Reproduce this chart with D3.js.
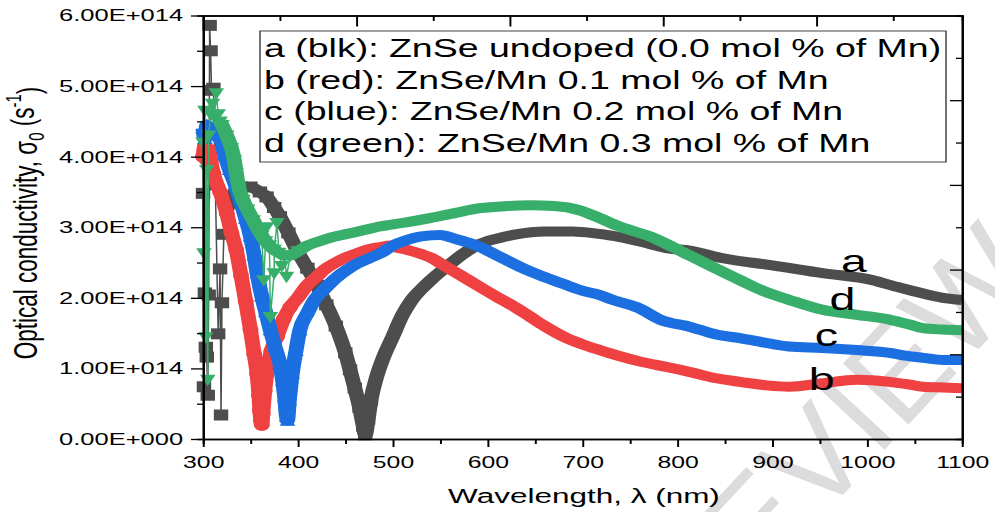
<!DOCTYPE html>
<html><head><meta charset="utf-8">
<script src="https://cdn.jsdelivr.net/npm/d3@7"></script>
<style>
body{margin:0;background:#fff}
svg{display:block}
text{font-family:"Liberation Sans",Arial,sans-serif;fill:#000}
</style>
</head><body>
<svg id="chart" width="995" height="512"></svg>
<script>
// ---------------- data (values in units of 1E+14 s^-1) ----------------
const wavelengthTicks = [300,400,500,600,700,800,900,1000,1100];
const wavelengthMinor = [350,450,550,650,750,850,950,1050];
const sigmaTicks = [0,1,2,3,4,5,6];
const sigmaMinor = [0.5,1.5,2.5,3.5,4.5,5.5];
const sigmaTickLabels = ["0.00E+000","1.00E+014","2.00E+014","3.00E+014","4.00E+014","5.00E+014","6.00E+014"];
const topAxisMax = 9.9;
const rightAxisMax = 10;
const legendLines = [
  "a (blk): ZnSe undoped (0.0 mol % of Mn)",
  "b (red): ZnSe/Mn 0.1 mol % of Mn",
  "c (blue): ZnSe/Mn 0.2 mol % of Mn",
  "d (green): ZnSe/Mn 0.3 mol % of Mn"
];
const curveLetters = ["a","b","c","d"];
const curveLetterAt = [[986,2.37],[952,0.70],[957,1.32],[974,1.83]]; // [wavelength, value] anchor (baseline) of the letter labels

const grayNoise = [[300,3.48],[301,0.74],[302,2.07],[303,1.30],[304,1.16],[305,0.62],[306,2.04],[307,5.86],[308,5.50],[309,4.94],[311,4.97],[313,3.60],[316,1.49],[318,2.41],[319,0.34],[320,1.93],[322,2.90]];
const grayBand = [[325,3.25],[330,3.42],[335,3.52],[340,3.57],[350,3.57],[360,3.50],[367,3.43],[375,3.28],[381,3.15],[390,2.92],[400,2.65],[410,2.42],[420,2.18],[430,1.90],[440,1.60],[450,1.22],[455,0.98],[460,0.72],[465,0.45],[469,0.18],[471,0.06],[474,0.28],[477,0.55],[483,0.88],[490,1.15],[500,1.45],[510,1.75],[520,1.97],[530,2.12],[540,2.25],[555,2.42],[575,2.63],[590,2.75],[610,2.84],[630,2.90],[660,2.94],[690,2.94],[715,2.91],[740,2.86],[760,2.80],[790,2.70],[813,2.67],[848,2.56],[900,2.46],[953,2.35],[1006,2.25],[1030,2.16],[1059,2.06],[1080,2.00],[1100,1.97]];

const redNoise = [];
const redBand = [[300,4.00],[302,4.15],[304,3.95],[306,4.10],[308,3.95],[311,3.76],[318,3.50],[325,3.20],[330,2.92],[335,2.68],[340,2.32],[345,1.95],[350,1.55],[354,1.20],[357,0.92],[359,0.62],[360,0.40],[361,0.26],[362,0.20],[363,0.36],[365,0.68],[368,1.00],[372,1.25],[378,1.45],[385,1.70],[392,1.87],[400,2.00],[410,2.18],[420,2.30],[427,2.39],[440,2.50],[450,2.57],[462,2.63],[475,2.69],[487,2.72],[497,2.74],[505,2.71],[515,2.68],[530,2.62],[540,2.57],[555,2.45],[574,2.30],[590,2.17],[609,2.02],[630,1.86],[645,1.73],[660,1.60],[680,1.45],[700,1.34],[718,1.26],[740,1.17],[760,1.10],[789,1.02],[813,0.95],[841,0.86],[866,0.81],[894,0.76],[918,0.74],[953,0.79],[989,0.84],[1024,0.81],[1045,0.77],[1059,0.74],[1080,0.73],[1100,0.72]];

const blueNoise = [];
const blueBand = [[300,4.40],[302,4.25],[304,4.45],[306,4.30],[309,4.40],[313,4.35],[318,4.28],[323,4.02],[328,3.81],[334,3.60],[339,3.39],[345,3.12],[350,2.87],[354,2.60],[357,2.35],[362,2.02],[366,1.80],[371,1.54],[376,1.30],[381,1.07],[384,0.82],[386,0.60],[388,0.32],[389,0.26],[391,0.55],[394,0.92],[398,1.25],[402,1.54],[410,1.78],[418,1.98],[427,2.11],[440,2.28],[452,2.40],[462,2.48],[475,2.56],[487,2.63],[500,2.74],[515,2.82],[530,2.87],[550,2.89],[565,2.84],[580,2.78],[592,2.72],[610,2.60],[634,2.44],[655,2.32],[679,2.20],[700,2.10],[718,2.04],[732,1.97],[760,1.85],[782,1.69],[813,1.59],[841,1.48],[866,1.43],[890,1.37],[918,1.31],[953,1.29],[989,1.26],[1024,1.22],[1040,1.18],[1059,1.15],[1080,1.12],[1100,1.12]];

const greenNoise = [[300,4.20],[301,2.63],[302,4.65],[303,1.44],[304,3.81],[305,0.84],[306,4.30],[308,4.60],[310,4.75],[312,4.55],[314,4.90],[316,4.60],[364,2.25],[367,3.00],[371,1.73],[375,2.35],[378,3.06],[383,2.45],[388,2.30]];
const greenBand = [[318,4.50],[320,4.45],[325,4.30],[330,4.12],[333,3.95],[335,3.77],[338,3.55],[342,3.39],[347,3.25],[353,3.10],[358,2.97],[362,2.88],[366,2.80],[370,2.74],[375,2.68],[380,2.64],[386,2.60],[392,2.60],[400,2.66],[410,2.74],[420,2.79],[434,2.85],[450,2.90],[470,2.96],[486,3.01],[510,3.06],[539,3.13],[565,3.20],[592,3.27],[620,3.30],[645,3.31],[670,3.30],[697,3.24],[718,3.13],[735,3.03],[750,2.96],[771,2.87],[795,2.72],[813,2.60],[840,2.42],[866,2.25],[890,2.10],[918,1.97],[953,1.83],[989,1.76],[1024,1.69],[1045,1.62],[1059,1.57],[1080,1.55],[1100,1.54]];

// ---------------- drawing ----------------
const SX = 1.5; // the whole figure is horizontally stretched
const svg = d3.select("#chart");

// watermark (behind everything)
svg.append("text")
  .attr("transform","translate(1044,279) rotate(-47)")
  .attr("text-anchor","end")
  .style("font-size","130px").style("fill","#dcdcdc")
  .text("REVIEW");

const g = svg.append("g").attr("transform",`scale(${SX},1)`);

const x0 = 203/SX, x1 = 962/SX, yB = 439, yT = 15.5;
const x = d3.scaleLinear().domain([300,1100]).range([x0,x1]);
const y = d3.scaleLinear().domain([0,6]).range([yB,yT]);
const xTop = d3.scaleLinear().domain([0,topAxisMax]).range([x0,x1]);
const yRight = d3.scaleLinear().domain([0,rightAxisMax]).range([yB,yT]);

const series = [
  {noise:grayNoise, band:grayBand, color:"#4d4d4d", shape:"square", markerCut:480},
  {noise:redNoise, band:redBand, color:"#ef4141", shape:"circle", markerCut:398},
  {noise:blueNoise, band:blueBand, color:"#1b6fe0", shape:"up", markerCut:405},
  {noise:greenNoise, band:greenBand, color:"#37ae6a", shape:"down", markerCut:400}
];

const plot = g.append("g");
const thin = d3.line().x(d=>x(d[0])).y(d=>y(d[1]));
const thick = d3.line().x(d=>x(d[0])).y(d=>y(d[1])).curve(d3.curveMonotoneX);

function marker(sel, shape, color){
  if(shape==="square"){
    sel.append("rect").attr("x",-4.8).attr("y",-5.5).attr("width",9.6).attr("height",11).attr("fill",color);
  } else if(shape==="circle"){
    sel.append("ellipse").attr("rx",5.3).attr("ry",6).attr("fill",color);
  } else if(shape==="up"){
    sel.append("path").attr("d","M0,-6.5L5.2,5L-5.2,5Z").attr("fill",color);
  } else {
    sel.append("path").attr("d","M0,6.5L5.2,-5L-5.2,-5Z").attr("fill",color);
  }
}

series.forEach(s=>{
  const all = s.noise.concat(s.band).sort((a,b)=>a[0]-b[0]);
  const sg = plot.append("g");
  sg.append("path").attr("d",thin(all)).attr("fill","none").attr("stroke",s.color).attr("stroke-width",1);
  sg.append("path").attr("d",thick(s.band)).attr("fill","none").attr("stroke",s.color)
    .attr("stroke-width",10).attr("stroke-linejoin","round");
  const pts = s.noise.concat(s.band.filter(d=>d[0]<=s.markerCut));
  pts.forEach(d=>{
    const m = sg.append("g").attr("transform",`translate(${x(d[0])},${y(d[1])})`);
    marker(m, s.shape, s.color);
  });
});

// axes
const axisStyle = sel=>{
  sel.select(".domain").attr("stroke","#000").attr("stroke-width",1.4);
  sel.selectAll(".tick line").attr("stroke","#000").attr("stroke-width",1.3);
};
const axLeft = g.append("g").attr("transform",`translate(${x0},0)`)
  .call(d3.axisLeft(y).tickValues(sigmaTicks).tickSize(8).tickSizeOuter(0).tickPadding(5.3)
    .tickFormat((d,i)=>sigmaTickLabels[i]));
axLeft.call(axisStyle);
axLeft.selectAll("text").style("font-size","17px");
g.append("g").attr("transform",`translate(${x0},0)`)
  .call(d3.axisLeft(y).tickValues(sigmaMinor).tickSize(4).tickFormat(""))
  .call(axisStyle);

const axBottom = g.append("g").attr("transform",`translate(0,${yB})`)
  .call(d3.axisBottom(x).tickValues(wavelengthTicks).tickSize(8).tickSizeOuter(0).tickPadding(9)
    .tickFormat(d3.format("d")));
axBottom.call(axisStyle);
axBottom.selectAll("text").style("font-size","16.5px");
g.append("g").attr("transform",`translate(0,${yB})`)
  .call(d3.axisBottom(x).tickValues(wavelengthMinor).tickSize(5).tickFormat(""))
  .call(axisStyle);

const axTop = g.append("g").attr("transform",`translate(0,${yT})`)
  .call(d3.axisTop(xTop).tickValues([2,4,6,8]).tickSize(-11).tickSizeOuter(0).tickFormat(""));
axTop.call(axisStyle);
g.append("g").attr("transform",`translate(0,${yT})`)
  .call(d3.axisTop(xTop).tickValues([1,3,5,7,9]).tickSize(-5.5).tickFormat(""))
  .call(axisStyle);

const axRight = g.append("g").attr("transform",`translate(${x1},0)`)
  .call(d3.axisRight(yRight).tickValues([2,4,6,8]).tickSize(-8).tickSizeOuter(0).tickFormat(""));
axRight.call(axisStyle);
g.append("g").attr("transform",`translate(${x1},0)`)
  .call(d3.axisRight(yRight).tickValues([1,3,5,7,9]).tickSize(-4).tickFormat(""))
  .call(axisStyle);

// axis titles
g.append("text").attr("x",584/SX).attr("y",503).attr("text-anchor","middle")
  .style("font-size","21px").text("Wavelength, λ (nm)");

const yt = g.append("text").attr("transform",`translate(${37/SX},223) rotate(-90)`)
  .attr("text-anchor","middle").style("font-size","22.5px");
yt.append("tspan").text("Optical conductivity, σ");
yt.append("tspan").attr("dy","0.3em").style("font-size","15px").text("0");
yt.append("tspan").attr("dy","-0.3em").text(" (s");
yt.append("tspan").attr("dy","-0.55em").style("font-size","15px").text("-1");
yt.append("tspan").attr("dy","0.55em").text(")");

// legend box
const lg = g.append("g");
lg.append("rect").attr("x",260/SX).attr("y",31).attr("width",(946-260)/SX).attr("height",131)
  .attr("fill","#fff").attr("stroke","#444").attr("stroke-width",1);
const legendY = d3.scalePoint().domain(d3.range(legendLines.length)).range([57.5,152]);
legendLines.forEach((t,i)=>{
  lg.append("text").attr("x",264/SX).attr("y",legendY(i)).style("font-size","25px").text(t);
});

// curve letters
curveLetters.forEach((t,i)=>{
  g.append("text").attr("x",x(curveLetterAt[i][0])).attr("y",y(curveLetterAt[i][1]))
    .attr("text-anchor","middle").style("font-size","31px").text(t);
});
</script>
</body></html>
